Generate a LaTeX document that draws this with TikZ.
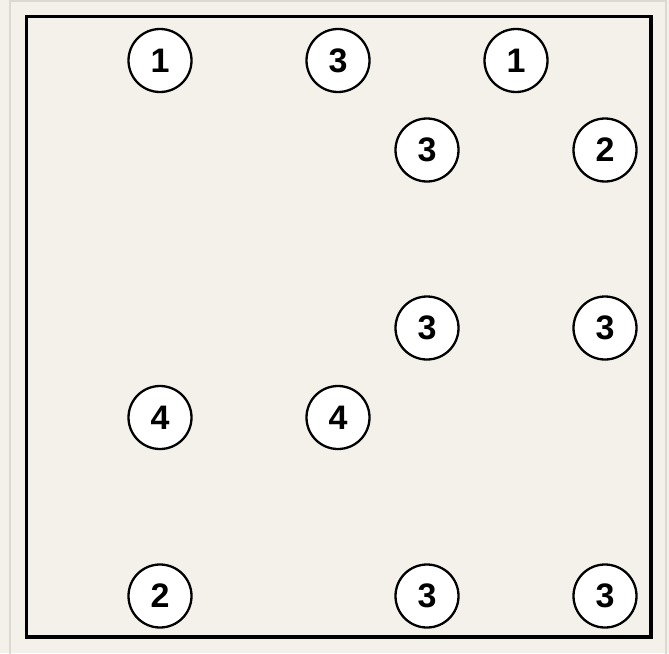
\documentclass[tikz,border=0pt]{standalone}
\usepackage{fontspec}
\setmainfont{Liberation Sans}
\usepackage{xcolor}
\definecolor{paper}{HTML}{F4F1EA}
\definecolor{frameline}{HTML}{DCD9D1}

\begin{document}
\begin{tikzpicture}[
          x=1pt, y=-1pt,
          clue/.style={draw, circle, line width=2.3pt, fill=white, minimum size=63pt,
            inner sep=0pt, font=\fontsize{34}{34}\selectfont\bfseries}
      ]
        \useasboundingbox[fill=paper] (0,0) rectangle (669,653);
        \draw[frameline, line width=2pt] (10,1) rectangle (666,660);
        \draw[line width=3.5pt] (26.5,16.5) rectangle (651,637);
        % row 0
        \node[clue] (a1) at (160,60.5) {1};
        \node[clue] (a3) at (338,60.5) {3};
        \node[clue] (a5) at (516,60.5) {1};
        % row 1
        \node[clue] (b4) at (427,150) {3};
        \node[clue] (b6) at (605,150) {2};
        % row 3
        \node[clue] (d4) at (427,328) {3};
        \node[clue] (d6) at (605,328) {3};
        % row 4
        \node[clue] (e1) at (160,417.5) {4};
        \node[clue] (e3) at (338,417.5) {4};
        % row 6
        \node[clue] (g1) at (160,596) {2};
        \node[clue] (g4) at (427,596) {3};
        \node[clue] (g6) at (605,596) {3};
      \end{tikzpicture}
\end{document}
